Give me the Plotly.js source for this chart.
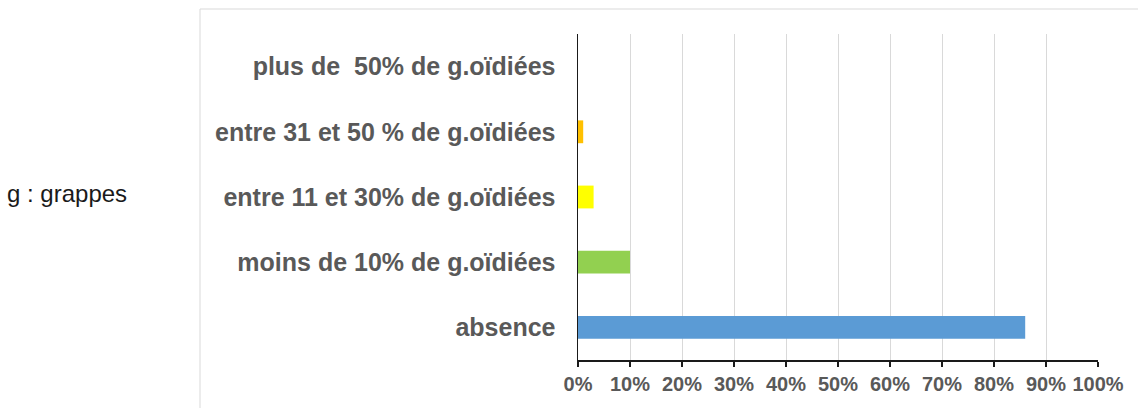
<!DOCTYPE html>
<html>
<head>
<meta charset="utf-8">
<script src="https://cdn.plot.ly/plotly-3.0.1.min.js"></script>
<style>html,body{margin:0;padding:0;background:#fff;}#chart{width:1138px;height:408px;}</style>
</head>
<body>
<div id="chart"></div>
<script>
const categories = [
  "absence",
  "moins de 10% de g.oïdiées",
  "entre 11 et 30% de g.oïdiées",
  "entre 31 et 50 % de g.oïdiées",
  "plus de \u00a050% de g.oïdiées"
];
const values = [86, 10, 3, 1, 0];
const barColors = ["#5B9BD5", "#92D050", "#FFFF00", "#FFC000", "#FF0000"];
const xTickValues = [0, 10, 20, 30, 40, 50, 60, 70, 80, 90, 100];
const xTickLabels = xTickValues.map(v => v + "%");
const noteText = "g : grappes";

const W = 1138, H = 408;
const L = 578, R = 1098, T = 34, B = 360;
const px2x = p => (p - L) / (R - L);
const py2y = p => (B - p) / (B - T);

const trace = {
  type: "bar",
  orientation: "h",
  y: categories,
  x: values,
  marker: {color: barColors, line: {width: 0}},
  hoverinfo: "none"
};

const layout = {
  width: W, height: H,
  margin: {l: L, r: W - R, t: T, b: H - B, pad: 0},
  paper_bgcolor: "#ffffff",
  plot_bgcolor: "rgba(0,0,0,0)",
  bargap: 0.65,
  showlegend: false,
  font: {family: "Liberation Sans, Arial, sans-serif", color: "#595959"},
  xaxis: {
    range: [0, 100],
    tickvals: xTickValues,
    ticktext: xTickLabels,
    showgrid: true,
    gridcolor: "#D9D9D9",
    gridwidth: 1,
    zeroline: false,
    showline: true,
    linecolor: "#1a1a1a",
    linewidth: 1.5,
    ticks: "outside",
    ticklen: 5,
    tickcolor: "#1a1a1a",
    tickwidth: 1.5,
    tickfont: {size: 20, color: "#595959", family: "Liberation Sans, Arial, sans-serif", weight: "bold"},
    fixedrange: true
  },
  yaxis: {
    type: "category",
    categoryorder: "array",
    categoryarray: categories,
    showgrid: false,
    zeroline: false,
    showline: true,
    linecolor: "#1a1a1a",
    linewidth: 1.5,
    ticks: "",
    ticklabelstandoff: 16,
    tickfont: {size: 25, color: "#595959", family: "Liberation Sans, Arial, sans-serif", weight: "bold"},
    fixedrange: true
  },
  shapes: [{
    type: "rect", xref: "paper", yref: "paper", layer: "below",
    x0: px2x(200), x1: px2x(1160), y0: py2y(430), y1: py2y(9),
    line: {color: "#D9D9D9", width: 1}, fillcolor: "rgba(0,0,0,0)"
  }],
  annotations: [{
    xref: "paper", yref: "paper",
    x: px2x(5), y: py2y(193),
    xanchor: "left", yanchor: "middle",
    text: noteText, showarrow: false,
    font: {size: 24, color: "#1a1a1a", family: "Liberation Sans, Arial, sans-serif"}
  }]
};

Plotly.newPlot("chart", [trace], layout, {displayModeBar: false, staticPlot: true});
</script>
</body>
</html>
